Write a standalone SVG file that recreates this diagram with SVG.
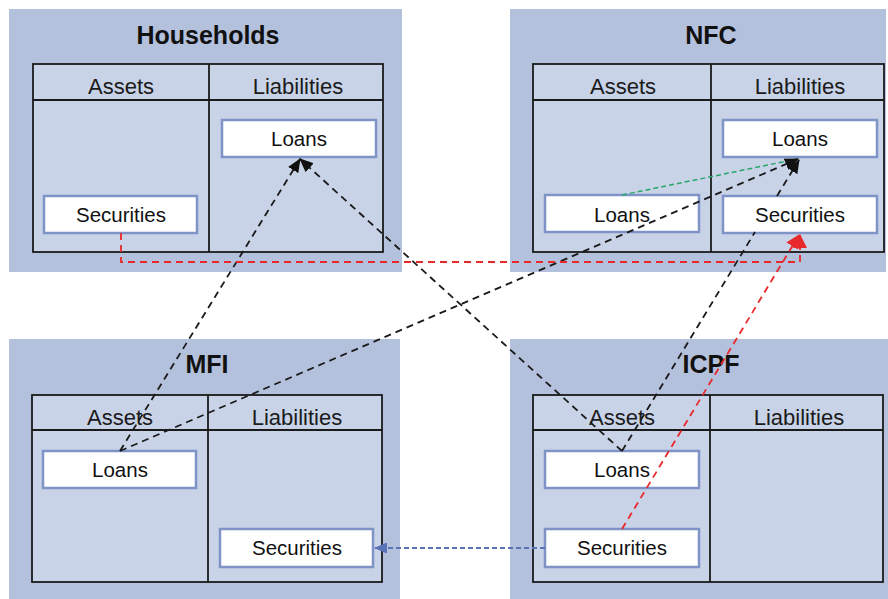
<svg xmlns="http://www.w3.org/2000/svg" width="888" height="599" viewBox="0 0 888 599">
  <style>
    .panel { fill: #b4c1dd; }
    .table { fill: #c9d3e8; stroke: #1a1a1a; stroke-width: 1.8; }
    .rule { stroke: #1a1a1a; stroke-width: 1.8; }
    .box { fill: #ffffff; stroke: #7f93c6; stroke-width: 2.5; }
    .title { font-family: "Liberation Sans", Arial, sans-serif; font-weight: bold; font-size: 25px; fill: #111; text-anchor: middle; }
    .head { font-family: "Liberation Sans", Arial, sans-serif; font-size: 22px; fill: #1a1a1a; text-anchor: middle; }
    .lbl { font-family: "Liberation Sans", Arial, sans-serif; font-size: 20.5px; fill: #111; text-anchor: middle; }
    .blk { fill: none; stroke: #1a1a1a; stroke-width: 1.8; stroke-dasharray: 7 5; }
    .red { fill: none; stroke: #e8292b; stroke-width: 1.8; stroke-dasharray: 7 5; }
    .grn { fill: none; stroke: #2aa56c; stroke-width: 1.5; stroke-dasharray: 5 3; }
    .blu { fill: none; stroke: #5a72b8; stroke-width: 1.8; stroke-dasharray: 5 3; }
  </style>
  <defs>
    <marker id="ah-black" viewBox="0 0 14 12" refX="13" refY="6" markerWidth="14" markerHeight="12" markerUnits="userSpaceOnUse" orient="auto">
      <path d="M0,0 L14,6 L0,12 z" fill="#111"/>
    </marker>
    <marker id="ah-red" viewBox="0 0 14 14" refX="13" refY="7" markerWidth="14" markerHeight="14" markerUnits="userSpaceOnUse" orient="auto">
      <path d="M0,0 L14,7 L0,14 z" fill="#e8292b"/>
    </marker>
    <marker id="ah-blue" viewBox="0 0 13 11" refX="12" refY="5.5" markerWidth="13" markerHeight="11" markerUnits="userSpaceOnUse" orient="auto">
      <path d="M0,0 L13,5.5 L0,11 z" fill="#5a72b8"/>
    </marker>
  </defs>

  <rect width="888" height="599" fill="#ffffff"/>

  <!-- Households balance sheet -->
  <g id="households">
    <rect class="panel" x="9" y="9" width="393" height="263"/>
    <text class="title" x="208" y="44">Households</text>
    <rect class="table" x="33" y="64" width="350" height="188"/>
    <line class="rule" x1="33" y1="100" x2="383" y2="100"/>
    <line class="rule" x1="209" y1="64" x2="209" y2="252"/>
    <text class="head" x="121" y="94">Assets</text>
    <text class="head" x="298" y="94">Liabilities</text>
    <g id="hh-loans">
      <rect class="box" x="222" y="120" width="154" height="37"/>
      <text class="lbl" x="299" y="146">Loans</text>
    </g>
    <g id="hh-securities">
      <rect class="box" x="44" y="196" width="153" height="37"/>
      <text class="lbl" x="121" y="222">Securities</text>
    </g>
  </g>

  <!-- NFC balance sheet -->
  <g id="nfc">
    <rect class="panel" x="510" y="9" width="376" height="263"/>
    <text class="title" x="711" y="44">NFC</text>
    <rect class="table" x="533" y="64" width="351" height="188"/>
    <line class="rule" x1="533" y1="100" x2="884" y2="100"/>
    <line class="rule" x1="711" y1="64" x2="711" y2="252"/>
    <text class="head" x="623" y="94">Assets</text>
    <text class="head" x="800" y="94">Liabilities</text>
    <g id="nfc-loans-liab">
      <rect class="box" x="723" y="120" width="154" height="37"/>
      <text class="lbl" x="800" y="146">Loans</text>
    </g>
    <g id="nfc-securities">
      <rect class="box" x="723" y="196" width="154" height="37"/>
      <text class="lbl" x="800" y="222">Securities</text>
    </g>
    <g id="nfc-loans-asset">
      <rect class="box" x="545" y="195" width="154" height="37"/>
      <text class="lbl" x="622" y="222">Loans</text>
    </g>
  </g>

  <!-- MFI balance sheet -->
  <g id="mfi">
    <rect class="panel" x="9" y="339" width="391" height="260"/>
    <text class="title" x="207" y="373">MFI</text>
    <rect class="table" x="32" y="395" width="350" height="187"/>
    <line class="rule" x1="32" y1="430" x2="382" y2="430"/>
    <line class="rule" x1="208" y1="395" x2="208" y2="582"/>
    <text class="head" x="120" y="425">Assets</text>
    <text class="head" x="297" y="425">Liabilities</text>
    <g id="mfi-loans">
      <rect class="box" x="43" y="451" width="153" height="37"/>
      <text class="lbl" x="120" y="477">Loans</text>
    </g>
    <g id="mfi-securities">
      <rect class="box" x="220" y="529" width="153" height="38"/>
      <text class="lbl" x="297" y="555">Securities</text>
    </g>
  </g>

  <!-- ICPF balance sheet -->
  <g id="icpf">
    <rect class="panel" x="510" y="339" width="378" height="260"/>
    <text class="title" x="711" y="373">ICPF</text>
    <rect class="table" x="533" y="395" width="350" height="187"/>
    <line class="rule" x1="533" y1="430" x2="883" y2="430"/>
    <line class="rule" x1="710" y1="395" x2="710" y2="582"/>
    <text class="head" x="622" y="425">Assets</text>
    <text class="head" x="799" y="425">Liabilities</text>
    <g id="icpf-loans">
      <rect class="box" x="545" y="451" width="154" height="37"/>
      <text class="lbl" x="622" y="477">Loans</text>
    </g>
    <g id="icpf-securities">
      <rect class="box" x="545" y="529" width="154" height="38"/>
      <text class="lbl" x="622" y="555">Securities</text>
    </g>
  </g>

  <!-- Flows between sectors -->
  <g id="connectors">
    <!-- loans to households -->
    <line class="blk" x1="120" y1="451" x2="300" y2="159" marker-end="url(#ah-black)"/>
    <line class="blk" x1="622" y1="451" x2="300" y2="159" marker-end="url(#ah-black)"/>
    <!-- loans to NFC -->
    <line class="grn" x1="622" y1="195" x2="797" y2="159"/>
    <line class="blk" x1="120" y1="451" x2="798" y2="159" marker-end="url(#ah-black)"/>
    <path class="blk" d="M622,451 L755,232 M777,196 L799,160" marker-end="url(#ah-black)"/>
    <!-- securities to NFC -->
    <path class="red" d="M121,233 V262 H800 V235" marker-end="url(#ah-red)"/>
    <line class="red" x1="622" y1="529" x2="799" y2="235" marker-end="url(#ah-red)"/>
    <!-- securities to MFI -->
    <line class="blu" x1="545" y1="548" x2="375" y2="548" marker-end="url(#ah-blue)"/>
  </g>
</svg>
